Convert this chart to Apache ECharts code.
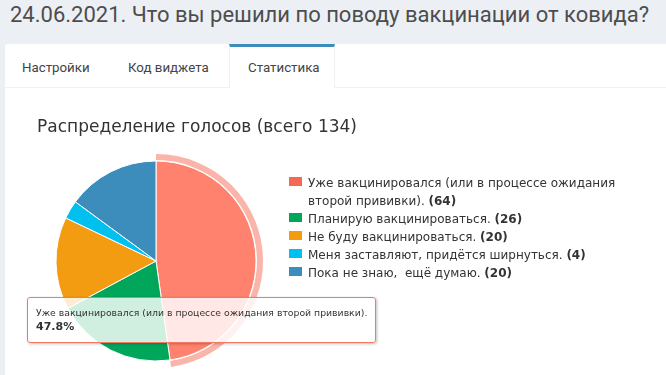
<!DOCTYPE html>
<html>
<head>
<meta charset="utf-8">
<script src="https://cdn.jsdelivr.net/npm/echarts@6/dist/echarts.min.js"></script>
<style>
  html, body { margin:0; padding:0; width:666px; height:375px; overflow:hidden; background:#ecf0f5; }
  #hdr { position:absolute; left:10px; top:2px; font-family:Roboto, sans-serif; font-size:22px; color:#4d4d4d; white-space:nowrap; }
  #panel { position:absolute; left:5px; top:44px; width:700px; height:400px; background:#fff; border-radius:3px; box-shadow:0 1px 1px rgba(0,0,0,0.1); }
  #tabline { position:absolute; left:5px; top:87px; width:700px; height:1px; background:#f0f0f0; }
  .tab { position:absolute; top:44px; height:44px; line-height:48px; font-family:Roboto, sans-serif; font-size:13.3px; color:#444; white-space:nowrap; }
  #active { position:absolute; left:229px; top:44px; width:104px; height:41px; border-top:3px solid #3c8dbc; border-left:1px solid #f0f0f0; border-right:1px solid #f0f0f0; background:#fff; }
  #chart { position:absolute; left:0; top:0; width:666px; height:375px; }
</style>
</head>
<body>
<div id="hdr">24.06.2021. Что вы решили по поводу вакцинации от ковида?</div>
<div id="panel"></div>
<div id="tabline"></div>
<div id="active"></div>
<div class="tab" style="left:22px">Настройки</div>
<div class="tab" style="left:128px">Код виджета</div>
<div class="tab" style="left:248px">Статистика</div>
<div id="chart"></div>
<script>
const chartTitle = 'Распределение голосов (всего 134)';
const categories = [
  'Уже вакцинировался (или в процессе ожидания второй прививки).',
  'Планирую вакцинироваться.',
  'Не буду вакцинироваться.',
  'Меня заставляют, придётся ширнуться.',
  'Пока не знаю,  ещё думаю.'
];
const legendText = [
  'Уже вакцинировался (или в процессе ожидания\nвторой прививки).',
  'Планирую вакцинироваться.',
  'Не буду вакцинироваться.',
  'Меня заставляют, придётся ширнуться.',
  'Пока не знаю,  ещё думаю.'
];
const values = [64, 26, 20, 4, 20];
const colors = ['#f56954', '#00a65a', '#f39c12', '#00c0ef', '#3c8dbc'];
const hoverColor = '#fe826d';
const haloColor = 'rgba(245,105,84,0.5)';

const total = values.reduce((a, b) => a + b, 0);
const chart = echarts.init(document.getElementById('chart'), null, { renderer: 'canvas' });

const legendData = categories.map((c, i) => ({
  name: c,
  itemStyle: { color: colors[i] },
  textStyle: { padding: [i === 0 ? 23 : 5, 0, 0, 0] }
}));

chart.setOption({
  animation: false,
  title: {
    text: chartTitle, left: 37, top: 119, padding: 0,
    textStyle: { fontFamily: 'DejaVu Sans', fontSize: 17, fontWeight: 'normal', color: '#333' }
  },
  tooltip: {
    trigger: 'item',
    alwaysShowContent: true,
    triggerOn: 'none',
    transitionDuration: 0,
    position: [27, 297],
    backgroundColor: 'rgba(255,255,255,0.82)',
    borderColor: '#f07a64',
    borderWidth: 1,
    padding: [8, 8],
    extraCssText: 'border-radius:3px; box-shadow:1px 1px 3px rgba(0,0,0,0.25);',
    formatter: function (p) {
      const i = p.dataIndex;
      return '<div style="font-family:DejaVu Sans;font-size:9.3px;color:#333;line-height:13px;white-space:pre">' + categories[i] + '</div>' +
             '<div style="font-family:DejaVu Sans;font-size:11px;font-weight:bold;color:#333;line-height:15px">' + (values[i] / total * 100).toFixed(1) + '%</div>';
    }
  },
  legend: {
    orient: 'vertical', left: 287, top: 152, padding: 0,
    icon: 'rect', itemWidth: 15, itemHeight: 11, itemGap: -5,
    data: legendData,
    selectedMode: false,
    textStyle: {
      fontFamily: 'DejaVu Sans', fontSize: 12, lineHeight: 18, color: '#333',
      rich: { b: { fontFamily: 'DejaVu Sans', fontSize: 12, lineHeight: 18, fontWeight: 'bold', color: '#333' } }
    },
    formatter: function (name) {
      const i = categories.indexOf(name);
      return legendText[i] + ' {b|(' + values[i] + ')}';
    }
  },
  series: [
    {
      type: 'pie', center: [156, 261], radius: [101, 107], silent: true,
      startAngle: 90, clockwise: true,
      label: { show: false }, labelLine: { show: false },
      emphasis: { disabled: true }, tooltip: { show: false },
      data: values.map((v, i) => ({ value: v, itemStyle: { color: i === 0 ? haloColor : 'rgba(0,0,0,0)', borderWidth: 0 } }))
    },
    {
      type: 'pie', center: [156, 261], radius: [0, 100],
      startAngle: 90, clockwise: true,
      label: { show: false }, labelLine: { show: false },
      emphasis: { disabled: true },
      itemStyle: { borderColor: '#fff', borderWidth: 1 },
      data: categories.map((c, i) => ({ name: c, value: values[i], itemStyle: { color: i === 0 ? hoverColor : colors[i] } }))
    }
  ]
});
chart.dispatchAction({ type: 'showTip', seriesIndex: 1, dataIndex: 0 });
</script>
</body>
</html>
